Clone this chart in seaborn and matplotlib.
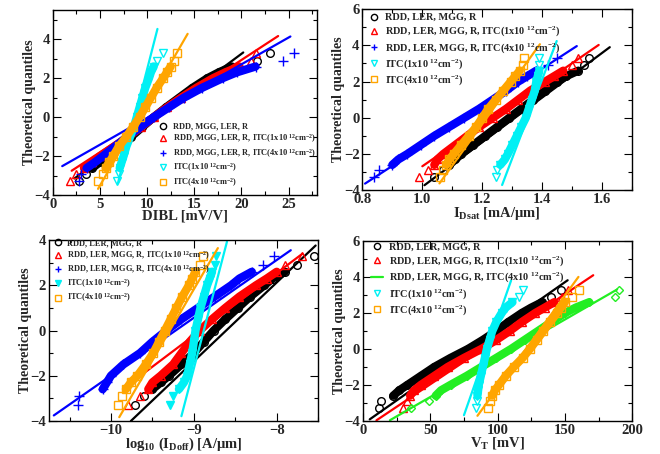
import numpy as np
import pandas as pd
import matplotlib
matplotlib.use("Agg")
import matplotlib.pyplot as plt
import seaborn as sns
from matplotlib.lines import Line2D
from matplotlib.ticker import MultipleLocator

sns.set_theme(style="ticks")
plt.rcParams["font.family"] = ["Liberation Serif", "DejaVu Serif"]
plt.rcParams["font.weight"] = "bold"
plt.rcParams["axes.labelweight"] = "bold"
plt.rcParams["mathtext.fontset"] = "custom"
plt.rcParams["mathtext.rm"] = "Liberation Serif:bold"
plt.rcParams["mathtext.it"] = "Liberation Serif:bold"
plt.rcParams["mathtext.bf"] = "Liberation Serif:bold"
plt.rcParams["mathtext.default"] = "rm"

# ---------------- data ----------------
theo_q = [-3.29, -2.9, -2.6, -2.3, -2.0, -1.5, -1.0, -0.5, 0.0, 0.5, 1.0, 1.5, 2.0, 2.3, 2.6, 2.9, 3.29]

# Panel 1: DIBL [mV/V]
dibl_black = [2.8, 3.5, 4.2, 5.0, 5.8, 7.0, 8.3, 9.5, 10.7, 12.0, 13.4, 14.8, 16.4, 17.6, 19.0, 21.7, 23.0]
dibl_red = [1.8, 2.5, 3.3, 4.2, 5.0, 6.5, 8.0, 9.4, 10.7, 12.1, 13.6, 15.2, 17.0, 18.3, 19.8, 21.0, 21.6]
dibl_blue = [2.8, 3.0, 3.6, 4.5, 5.3, 6.6, 7.9, 9.3, 10.7, 12.3, 13.9, 15.8, 18.0, 19.5, 21.5, 24.4, 25.6]
dibl_cyan = [6.8, 7.0, 7.1, 7.3, 7.5, 7.8, 8.2, 8.6, 8.9, 9.2, 9.5, 9.8, 10.2, 10.4, 10.7, 11.1, 11.7]
dibl_orange = [4.8, 5.3, 5.6, 6.0, 6.4, 7.0, 7.8, 8.5, 9.2, 9.8, 10.4, 11.0, 11.7, 12.1, 12.5, 12.9, 13.2]
# normal fit: mean, sigma, line start, line end
dibl_fit = [(11.0, 2.77, 2.3, 20.2), (10.7, 3.17, 2.0, 23.9), (10.13, 3.64, 1.0, 25.2),
            (8.7, 0.53, 6.9, 11.1), (9.19, 1.195, 4.8, 14.3)]

# Panel 2: IDsat [mA/um]
idsat_black = [1.04, 1.07, 1.09, 1.11, 1.13, 1.17, 1.21, 1.25, 1.29, 1.33, 1.37, 1.41, 1.45, 1.48, 1.52, 1.54, 1.555]
idsat_red = [0.99, 1.02, 1.04, 1.05, 1.07, 1.11, 1.15, 1.19, 1.235, 1.28, 1.32, 1.36, 1.41, 1.44, 1.47, 1.50, 1.52]
idsat_blue = [0.84, 0.855, 0.90, 0.92, 0.95, 0.995, 1.04, 1.09, 1.14, 1.19, 1.235, 1.28, 1.32, 1.35, 1.38, 1.42, 1.45]
idsat_cyan = [1.245, 1.25, 1.26, 1.275, 1.285, 1.30, 1.315, 1.33, 1.345, 1.355, 1.365, 1.375, 1.38, 1.385, 1.39, 1.39, 1.39]
idsat_orange = [1.06, 1.07, 1.08, 1.09, 1.105, 1.13, 1.155, 1.18, 1.20, 1.22, 1.245, 1.27, 1.295, 1.31, 1.325, 1.335, 1.34]
idsat_fit = [(1.309, 0.0811, 1.007, 1.625), (1.235, 0.0878, 1.0, 1.588), (1.147, 0.093, 0.809, 1.515),
             (1.351, 0.0229, 1.266, 1.448), (1.215, 0.0436, 1.057, 1.392)]

# Panel 3: log10(IDoff) [A/um]
ioff_black = [-9.71, -9.6, -9.5, -9.4, -9.3, -9.15, -9.0, -8.88, -8.76, -8.62, -8.47, -8.32, -8.15, -8.05, -7.9, -7.75, -7.55]
ioff_red = [-9.80, -9.65, -9.55, -9.5, -9.4, -9.25, -9.15, -9.05, -8.93, -8.78, -8.62, -8.45, -8.25, -8.12, -8.0, -7.9, -7.69]
ioff_blue = [-10.40, -10.38, -10.10, -10.05, -10.0, -9.85, -9.65, -9.5, -9.33, -9.15, -8.95, -8.75, -8.55, -8.45, -8.30, -8.17, -8.03]
ioff_cyan = [-9.29, -9.25, -9.18, -9.12, -9.08, -9.05, -9.02, -9.0, -8.98, -8.95, -8.92, -8.88, -8.84, -8.81, -8.78, -8.75, -8.73]
ioff_orange = [-9.92, -9.87, -9.82, -9.76, -9.68, -9.58, -9.49, -9.42, -9.35, -9.28, -9.21, -9.14, -9.06, -9.02, -8.98, -8.93, -8.89]
ioff_fit = [(-8.61, 0.287, -9.76, -7.53), (-8.92, 0.362, -9.7, -7.69), (-9.22, 0.391, -10.69, -7.83),
            (-8.88, 0.0712, -9.15, -8.60), (-9.29, 0.159, -9.90, -8.71)]

# Panel 4: VT [mV]
vt_black = [12, 13, 22.5, 27, 33, 43, 53, 65, 78, 89, 99, 108, 118, 125, 133, 140, 147]
vt_red = [30, 33, 35, 38, 43, 53, 63, 75, 88, 99, 109, 118, 128, 135, 142, 148, 152]
vt_green = [36, 49, 54, 58, 65, 77, 88, 99, 110, 120, 130, 140, 150, 158, 168, 187.5, 190]
vt_cyan = [84, 84.5, 85, 85.5, 86, 87.5, 89, 90.5, 92, 94, 96, 99, 103, 106, 111, 116, 119]
vt_orange = [92.5, 94.5, 96, 98, 101, 106, 112, 118.5, 124, 129, 134, 139, 144, 147, 150, 155, 160.5]
vt_fit = [(79.4, 19.0, 5, 152), (89.2, 19.95, 10, 171), (112.0, 23.2, 20, 188.75),
          (92.2, 4.67, 75, 110), (121.1, 9.71, 85, 160)]

labels_a = ["RDD, MGG, LER, R",
            "RDD, MGG, LER, R, ITC(1x10 $^{12}$cm$^{-2}$)",
            "RDD, MGG, LER, R, ITC(4x10 $^{12}$cm$^{-2}$)",
            "ITC(1x10 $^{12}$cm$^{-2}$)",
            "ITC(4x10 $^{12}$cm$^{-2}$)"]
labels_b = ["RDD, LER, MGG, R",
            "RDD, LER, MGG, R, ITC(1x10 $^{12}$cm$^{-2}$)",
            "RDD, LER, MGG, R, ITC(4x10 $^{12}$cm$^{-2}$)",
            "ITC(1x10 $^{12}$cm$^{-2}$)",
            "ITC(4x10 $^{12}$cm$^{-2}$)"]

BLACK, RED, BLUE, CYAN, ORANGE, GREEN = "#000000", "#ff0000", "#0000ff", "#00f0f4", "#ffa500", "#22ee22"

# ---------------- drawing ----------------
fig = plt.figure(figsize=(6.6, 4.54), dpi=100)


def draw_series(ax, xs, color, marker, filled, fit, ms):
    df = pd.DataFrame({"x": xs, "q": theo_q})
    body = df.iloc[2:-2]
    sns.lineplot(data=body, x="x", y="q", sort=False, estimator=None, color=color,
                 lw=6, ax=ax, solid_capstyle="round")
    sns.lineplot(data=df, x="x", y="q", sort=False, estimator=None, color=color,
                 linestyle="", marker=marker, mfc=color if filled else "none",
                 mec=color, ms=ms, mew=1.0, ax=ax)
    mu, sig, x0, x1 = fit
    fx = np.array([x0, x1])
    fy = (fx - mu) / sig
    sns.lineplot(x=fx, y=fy, sort=False, estimator=None, color=color, lw=1.6, ax=ax)


def style_axes(ax, xlim, ylim, xmaj, xmin, ymaj, ymin, xlabel):
    ax.set_xlim(*xlim)
    ax.set_ylim(*ylim)
    ax.xaxis.set_major_locator(MultipleLocator(xmaj))
    ax.xaxis.set_minor_locator(MultipleLocator(xmin))
    ax.yaxis.set_major_locator(MultipleLocator(ymaj))
    ax.yaxis.set_minor_locator(MultipleLocator(ymin))
    ax.tick_params(which="both", direction="in", top=True, right=True, width=0.8,
                   labelsize=10.5, pad=2, color="black")
    ax.tick_params(which="major", length=5.5)
    ax.tick_params(which="minor", length=3)
    for lab in ax.get_xticklabels() + ax.get_yticklabels():
        lab.set_fontweight("bold")
    for s in ax.spines.values():
        s.set_linewidth(1.0)
        s.set_color("black")
    ax.set_xlabel(xlabel, fontsize=10.5, fontweight="bold", labelpad=-1)
    ax.set_ylabel("Theoretical quantiles", fontsize=10, fontweight="bold", labelpad=-1)


def add_legend(ax, labels, handles_spec, fs, anchor, spacing):
    handles = []
    for (c, m, filled, kind) in handles_spec:
        if kind == "line":
            handles.append(Line2D([], [], color=c, lw=1.6))
        else:
            handles.append(Line2D([], [], color=c, ls="", marker=m,
                                  mfc=c if filled else "none", mec=c, ms=4.5, mew=1.0))
    ax.legend(handles, labels, loc="upper left", bbox_to_anchor=anchor, frameon=False,
              handlelength=1.2, handletextpad=0.5, labelspacing=spacing,
              borderpad=0, borderaxespad=0, prop={"weight": "bold", "size": fs})


# Panel 1
ax1 = fig.add_axes([0.080, 0.570, 0.400, 0.408])
p1 = [dibl_black, dibl_red, dibl_blue, dibl_cyan, dibl_orange]
m1 = [(BLACK, "o", False), (RED, "^", False), (BLUE, "+", False),
      (CYAN, "v", False), (ORANGE, "s", False)]
for xs, (c, m, f), fit in zip(p1, m1, dibl_fit):
    draw_series(ax1, xs, c, m, f, fit, 5.5 if m != "+" else 7)
style_axes(ax1, (0, 28), (-4, 5.5), 5, 2.5, 2, 1, "DIBL [mV/V]")
add_legend(ax1, labels_a, [(c, m, f, "m") for c, m, f in m1], 6.0, (0.40, 0.393), 0.23)

# Panel 2
ax2 = fig.add_axes([0.549, 0.581, 0.409, 0.399])
p2 = [idsat_black, idsat_red, idsat_blue, idsat_cyan, idsat_orange]
for xs, (c, m, f), fit in zip(p2, m1, idsat_fit):
    draw_series(ax2, xs, c, m, f, fit, 5.5 if m != "+" else 7)
style_axes(ax2, (0.8, 1.7), (-4, 6), 0.2, 0.1, 2, 1, "I$_{Dsat}$ [mA/μm]")
add_legend(ax2, labels_b, [(c, m, f, "m") for c, m, f in m1], 7.4, (0.02, 0.978), 0.22)

# Panel 3
ax3 = fig.add_axes([0.074, 0.073, 0.408, 0.398])
p3 = [ioff_black, ioff_red, ioff_blue, ioff_cyan, ioff_orange]
m3 = [(BLACK, "o", False), (RED, "^", False), (BLUE, "+", False),
      (CYAN, "v", True), (ORANGE, "s", False)]
for xs, (c, m, f), fit in zip(p3, m3, ioff_fit):
    draw_series(ax3, xs, c, m, f, fit, 5.5 if m != "+" else 7)
style_axes(ax3, (-10.75, -7.5), (-4, 4), 1, 0.5, 2, 1, "log$_{10}$ (I$_{Doff}$) [A/μm]")
add_legend(ax3, labels_b, [(c, m, f, "m") for c, m, f in m3], 6.0, (0.015, 1.005), 0.2)

# Panel 4
ax4 = fig.add_axes([0.550, 0.073, 0.408, 0.396])
p4 = [vt_black, vt_red, vt_green, vt_cyan, vt_orange]
m4 = [(BLACK, "o", False), (RED, "^", False), (GREEN, "D", False),
      (CYAN, "v", False), (ORANGE, "s", False)]
for xs, (c, m, f), fit in zip(p4, m4, vt_fit):
    draw_series(ax4, xs, c, m, f, fit, 5.5 if m != "D" else 4)
style_axes(ax4, (0, 200), (-4, 6), 50, 25, 2, 1, "V$_T$ [mV]")
spec4 = [(BLACK, "o", False, "m"), (RED, "^", False, "m"), (GREEN, "", False, "line"),
         (CYAN, "v", False, "m"), (ORANGE, "s", False, "m")]
add_legend(ax4, labels_b, spec4, 7.4, (0.03, 0.99), 0.22)

fig.savefig("out.png", dpi=100)
